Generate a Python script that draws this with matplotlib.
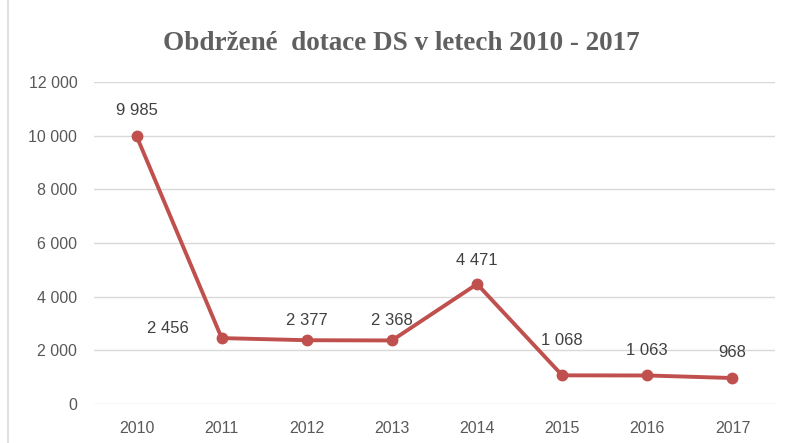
import matplotlib
matplotlib.use("Agg")
import matplotlib.pyplot as plt
from matplotlib.lines import Line2D
from matplotlib.ticker import FuncFormatter

years = ["2010", "2011", "2012", "2013", "2014", "2015", "2016", "2017"]
values = [9985, 2456, 2377, 2368, 4471, 1068, 1063, 968]
yticks = [0, 2000, 4000, 6000, 8000, 10000, 12000]
title = "Obdržené  dotace DS v letech 2010 - 2017"

# label offsets in pixels (dx, dy)
offsets = [(0, 26), (-54, 10), (0, 20), (0, 20), (0, 24), (0, 35), (0, 25), (0, 26)]

def fmt(v):
    return f"{int(v):,}".replace(",", " ")

fig = plt.figure(figsize=(7.87, 4.43), dpi=100)
ax = fig.add_axes([94/787, 1-404/443, (775-94)/787, (404-82)/443])

x = list(range(len(years)))
ax.plot(x, values, color="#C0504D", lw=2.8, marker="o", markersize=7.5, solid_joinstyle="round")

for xi, v, (dx, dy) in zip(x, values, offsets):
    ax.annotate(fmt(v), (xi, v), xytext=(dx, dy), textcoords="offset pixels",
                ha="center", va="center", fontsize=12, color="#404040",
                family="Liberation Sans")

ax.set_xlim(-0.5, len(years) - 0.5)
ax.set_ylim(0, 12000)
ax.set_yticks(yticks)
ax.yaxis.set_major_formatter(FuncFormatter(lambda v, p: fmt(v)))
ax.set_xticks(x)
ax.set_xticklabels(years)
ax.grid(axis="y", color="#D9D9D9", lw=1)
ax.set_axisbelow(True)
for s in ax.spines.values():
    s.set_visible(False)
ax.tick_params(length=0, colors="#595959", labelsize=11.5)
ax.tick_params(axis="y", pad=12)
ax.tick_params(axis="x", pad=12)
for lab in ax.get_xticklabels() + ax.get_yticklabels():
    lab.set_family("Liberation Sans")

fig.text(401/787, 1-43/443, title, ha="center", va="center", fontsize=19.5,
         fontweight="bold", family="Liberation Serif", color="#606060")

fig.add_artist(Line2D([8/787, 8/787], [0, 1], color="#D9D9D9", lw=1.2, transform=fig.transFigure))

fig.savefig("out.png", dpi=100)
